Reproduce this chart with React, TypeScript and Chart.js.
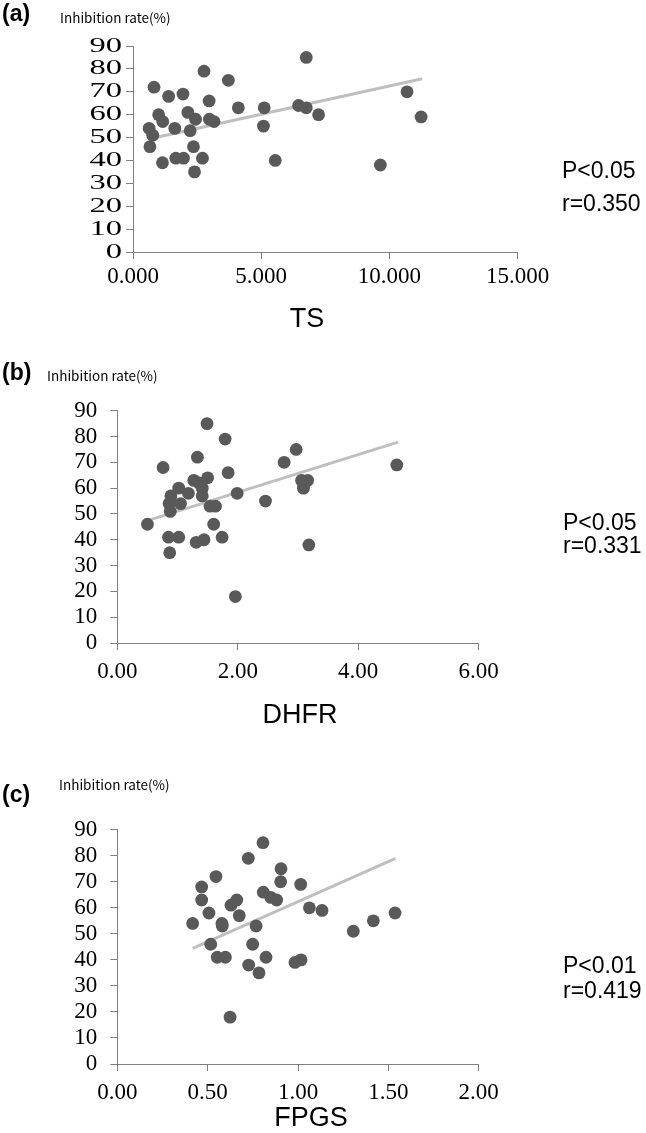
import React, { useEffect, useRef } from 'react';
import { Chart, registerables } from 'chart.js';
Chart.register(...registerables);

// ---- Panel (a): TS ----
const tsX = [0.63, 0.66, 0.77, 0.82, 1.0, 1.16, 1.15, 1.39, 1.63, 1.67, 1.95, 1.97, 2.14, 2.23, 2.36, 2.4, 2.44, 2.71, 2.77, 2.97, 2.98, 3.16, 3.72, 4.11, 5.12, 5.09, 5.55, 6.46, 6.76, 6.76, 7.24, 9.65, 10.69, 11.24];
const tsY = [54, 46, 51, 72, 60, 57, 39, 68, 54, 41, 69, 41, 61, 53, 46, 35, 58, 41, 79, 66, 58, 57, 75, 63, 63, 55, 40, 64, 85, 63, 60, 38, 70, 59];
const tsTrendX = [0.63, 11.28];
const tsTrendY = [49.4, 75.7];
const tsTicks = [0, 5, 10, 15];

// ---- Panel (b): DHFR ----
const dhfrX = [0.5, 0.76, 0.89, 0.86, 0.88, 0.85, 0.87, 1.02, 1.05, 1.02, 1.18, 1.33, 1.27, 1.31, 1.44, 1.36, 1.41, 1.41, 1.49, 1.5, 1.54, 1.63, 1.6, 1.74, 1.79, 1.84, 1.99, 1.96, 2.46, 2.77, 2.97, 3.06, 3.16, 3.09, 3.18, 4.64];
const dhfrY = [46, 68, 57, 54, 51, 41, 35, 60, 54, 41, 58, 72, 63, 39, 40, 62, 60, 57, 85, 64, 53, 53, 46, 41, 79, 66, 58, 18, 55, 70, 75, 63, 63, 60, 38, 69];
const dhfrTrendX = [0.5, 4.66];
const dhfrTrendY = [47.4, 77.8];
const dhfrTicks = [0, 2, 4, 6];

// ---- Panel (c): FPGS ----
const fpgsX = [0.417, 0.467, 0.467, 0.507, 0.546, 0.517, 0.553, 0.598, 0.579, 0.581, 0.624, 0.629, 0.661, 0.675, 0.725, 0.727, 0.749, 0.768, 0.784, 0.806, 0.808, 0.823, 0.849, 0.882, 0.906, 0.904, 0.983, 1.017, 1.015, 1.063, 1.133, 1.306, 1.417, 1.537];
const fpgsY = [54, 68, 63, 58, 72, 46, 41, 41, 54, 53, 18, 61, 63, 57, 79, 38, 46, 53, 35, 85, 66, 41, 64, 63, 75, 70, 39, 40, 69, 60, 59, 51, 55, 58];
const fpgsTrendX = [0.417, 1.54];
const fpgsTrendY = [44.4, 79.0];
const fpgsTicks = [0, 0.5, 1, 1.5, 2];

const yTicks = [0, 10, 20, 30, 40, 50, 60, 70, 80, 90];

const panelLabels = ['(a)', '(b)', '(c)'];
const yTitle = 'Inhibition rate(%)';
const xTitles = ['TS', 'DHFR', 'FPGS'];
const pTexts = ['P<0.05', 'P<0.05', 'P<0.01'];
const rTexts = ['r=0.350', 'r=0.331', 'r=0.419'];

const W = 646;
const SANS = "'Liberation Sans', Arial, sans-serif";
const SERIF = "'Liberation Serif', 'Times New Roman', serif";
const JP = "'Noto Sans CJK JP', sans-serif";

type TextItem = { text: string; x: number; y: number; font: string; align: CanvasTextAlign };
type Panel = {
  top: number;
  height: number;
  area: { left: number; top: number; right: number; bottom: number };
  xs: number[];
  ys: number[];
  tx: number[];
  ty: number[];
  xTicks: number[];
  dec: number;
  yPad: number;
  xPad: number;
  wideY: boolean;
  texts: TextItem[];
};

function makeTexts(i: number, lab: [number, number], title: [number, number], xt: [number, number], p: [number, number], r: [number, number]): TextItem[] {
  return [
    { text: panelLabels[i], x: lab[0], y: lab[1], font: `bold 23px ${SANS}`, align: 'left' },
    { text: yTitle, x: title[0], y: title[1], font: `13.5px ${JP}`, align: 'left' },
    { text: xTitles[i], x: xt[0], y: xt[1], font: `27px ${SANS}`, align: 'center' },
    { text: pTexts[i], x: p[0], y: p[1], font: `23px ${SANS}`, align: 'left' },
    { text: rTexts[i], x: r[0], y: r[1], font: `23px ${SANS}`, align: 'left' },
  ];
}

const panels: Panel[] = [
  {
    top: 0, height: 345,
    area: { left: 133, top: 46, right: 517.5, bottom: 252 },
    xs: tsX, ys: tsY, tx: tsTrendX, ty: tsTrendY, xTicks: tsTicks, dec: 3,
    yPad: 4, xPad: 4, wideY: true,
    texts: makeTexts(0, [2, 15], [60, 18], [307, 320], [562, 172], [562, 205]),
  },
  {
    top: 345, height: 405,
    area: { left: 117.3, top: 410.7, right: 478.7, bottom: 643 },
    xs: dhfrX, ys: dhfrY, tx: dhfrTrendX, ty: dhfrTrendY, xTicks: dhfrTicks, dec: 2,
    yPad: 13, xPad: 8.5, wideY: false,
    texts: makeTexts(1, [2, 374], [47, 376], [300, 716], [563, 523.5], [563, 547]),
  },
  {
    top: 750, height: 383,
    area: { left: 117.3, top: 829.7, right: 478.7, bottom: 1064 },
    xs: fpgsX, ys: fpgsY, tx: fpgsTrendX, ty: fpgsTrendY, xTicks: fpgsTicks, dec: 2,
    yPad: 13, xPad: 8, wideY: false,
    texts: makeTexts(2, [2, 796], [59, 785], [311, 1119], [563, 967], [563, 992]),
  },
];

function PanelChart({ p }: { p: Panel }) {
  const ref = useRef<HTMLCanvasElement | null>(null);
  useEffect(() => {
    const canvas = ref.current;
    if (!canvas) return;
    const localTop = p.area.top - p.top;
    const localBottom = p.area.bottom - p.top;
    const textPlugin = {
      id: 'extraText',
      afterDraw(chart: any) {
        const ctx = chart.ctx as CanvasRenderingContext2D;
        ctx.save();
        ctx.fillStyle = '#000';
        ctx.textBaseline = 'middle';
        for (const t of p.texts) {
          ctx.font = t.font;
          ctx.textAlign = t.align;
          ctx.fillText(t.text, t.x, t.y - p.top);
        }
        if (p.wideY) {
          // wide (full-width style) y tick labels, placed through the y scale
          const ys = chart.scales.y;
          const rightEdge = chart.chartArea.left - 7 - p.yPad;
          ctx.font = `21px ${SERIF}`;
          ctx.textAlign = 'right';
          for (const v of yTicks) {
            const py = ys.getPixelForValue(v);
            ctx.save();
            ctx.translate(rightEdge, py);
            ctx.scale(1.55, 1);
            ctx.fillText(String(v), 0, 0);
            ctx.restore();
          }
        }
        ctx.restore();
      },
    };
    const xMin = p.xTicks[0];
    const xMax = p.xTicks[p.xTicks.length - 1];
    const chart = new Chart(canvas, {
      type: 'scatter',
      data: {
        datasets: [
          {
            data: p.xs.map((x, i) => ({ x, y: p.ys[i] })),
            backgroundColor: '#595959',
            borderWidth: 0,
            pointRadius: 6.4,
            pointHoverRadius: 6.4,
          },
          {
            type: 'line',
            data: p.tx.map((x, i) => ({ x, y: p.ty[i] })),
            borderColor: '#bfbfbf',
            borderWidth: 3,
            pointRadius: 0,
            showLine: true,
            fill: false,
          } as any,
        ],
      },
      options: {
        responsive: false,
        animation: false,
        devicePixelRatio: 1,
        events: [],
        layout: {
          padding: { left: 0, top: localTop, right: W - p.area.right, bottom: 0 },
        },
        plugins: { legend: { display: false }, tooltip: { enabled: false }, title: { display: false } },
        scales: {
          x: {
            type: 'linear',
            min: xMin,
            max: xMax,
            afterBuildTicks: (axis: any) => {
              axis.ticks = p.xTicks.map((v) => ({ value: v }));
            },
            afterFit: (axis: any) => {
              axis.height = p.height - localBottom;
            },
            grid: { display: true, drawOnChartArea: false, drawTicks: true, tickLength: 7, color: '#808080', lineWidth: 1 },
            border: { display: true, color: '#808080', width: 1 },
            ticks: {
              padding: p.xPad,
              color: '#000',
              maxRotation: 0,
              autoSkip: false,
              font: { family: SERIF, size: 23 },
              callback: (v: any) => Number(v).toFixed(p.dec),
            },
          },
          y: {
            type: 'linear',
            min: 0,
            max: 90,
            afterBuildTicks: (axis: any) => {
              axis.ticks = yTicks.map((v) => ({ value: v }));
            },
            afterFit: (axis: any) => {
              axis.width = p.area.left;
            },
            grid: { display: true, drawOnChartArea: false, drawTicks: true, tickLength: 7, color: '#808080', lineWidth: 1 },
            border: { display: true, color: '#808080', width: 1 },
            ticks: {
              display: !p.wideY,
              padding: p.yPad,
              color: '#000',
              autoSkip: false,
              font: { family: SERIF, size: 23 },
              callback: (v: any) => String(v),
            },
          },
        },
      },
      plugins: [textPlugin],
    });
    return () => chart.destroy();
  }, [p]);
  return (
    <canvas
      ref={ref}
      width={W}
      height={p.height}
      style={{ position: 'absolute', left: 0, top: p.top, width: W, height: p.height, display: 'block' }}
    />
  );
}

export default function App() {
  return (
    <div style={{ position: 'absolute', left: 0, top: 0, width: W, height: 1133, background: '#fff' }}>
      {panels.map((p, i) => (
        <PanelChart key={i} p={p} />
      ))}
    </div>
  );
}
